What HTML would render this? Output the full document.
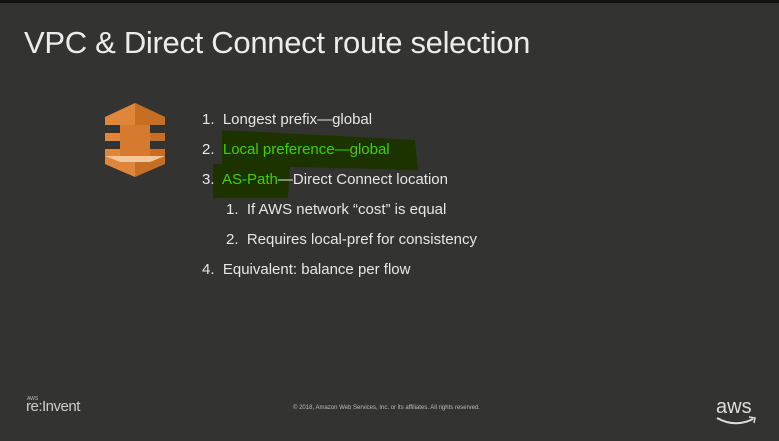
<html><head><style>
body{margin:0;width:779px;height:441px;background:#333432;overflow:hidden;position:relative;font-family:"Liberation Sans",sans-serif;color:#e6e6e6}
.t{position:absolute;left:24px;top:25px;font-size:31px;color:#ececec;letter-spacing:-0.3px}
.l{position:absolute;font-size:15px;white-space:nowrap}
.g{color:#3fd000}
</style></head><body>
<div style="position:absolute;left:0;top:0;width:779px;height:3px;background:#111"></div>
<svg style="position:absolute;left:0;top:0" width="779" height="441">
<polygon points="222,130 415,140 418,170 290,167 288,198 213,198 213,164 222,164" fill="#1c3300"/>
<g>
<polygon points="105,117 135,103 165,117 165,125 105,125" fill="#e0863a"/>
<polygon points="135,103 165,117 165,125 135,125" fill="#c76e25"/>
<rect x="105" y="133" width="60" height="8" fill="#e0863a"/>
<rect x="135" y="133" width="30" height="8" fill="#c76e25"/>
<rect x="105" y="149" width="60" height="7" fill="#e0863a"/>
<rect x="135" y="149" width="30" height="7" fill="#c76e25"/>
<rect x="120" y="125" width="30" height="31" fill="#d67a30"/>
<polygon points="105,156 165,156 165,164 135,177 105,164" fill="#c76e25"/>
<polygon points="105,156 165,156 150,162 120,162" fill="#f2c89a"/>
<polygon points="105,156 120,162 135,162 135,177 105,164" fill="#e0863a"/>
</g>
</svg>
<div class="t">VPC &amp; Direct Connect route selection</div>
<div class="l" style="left:202px;top:111px">1.&nbsp; Longest prefix—global</div>
<div class="l" style="left:202px;top:141px">2.&nbsp; <span class="g">Local preference—global</span></div>
<div class="l" style="left:202px;top:171px">3.&nbsp; <span class="g">AS-Path</span>—Direct Connect location</div>
<div class="l" style="left:226px;top:201px">1.&nbsp; If AWS network “cost” is equal</div>
<div class="l" style="left:226px;top:231px">2.&nbsp; Requires local-pref for consistency</div>
<div class="l" style="left:202px;top:261px">4.&nbsp; Equivalent: balance per flow</div>
<div style="position:absolute;left:27px;top:396px;font-size:5px;color:#bbb">AWS</div>
<div style="position:absolute;left:26px;top:398px;font-size:15px;color:#ccc;letter-spacing:-0.5px">re:Invent</div>
<div style="position:absolute;left:293px;top:405px;font-size:6px;color:#bbb">© 2018, Amazon Web Services, Inc. or its affiliates. All rights reserved.</div>
<div style="position:absolute;left:716px;top:396px;font-size:20px;color:#ddd">aws</div>
<svg style="position:absolute;left:715px;top:414px" width="45" height="14"><path d="M2,4 Q20,14 38,5" stroke="#ddd" stroke-width="2" fill="none"/><path d="M34,3 L40,4 L39,9" stroke="#ddd" stroke-width="1.5" fill="none"/></svg>
</body></html>
